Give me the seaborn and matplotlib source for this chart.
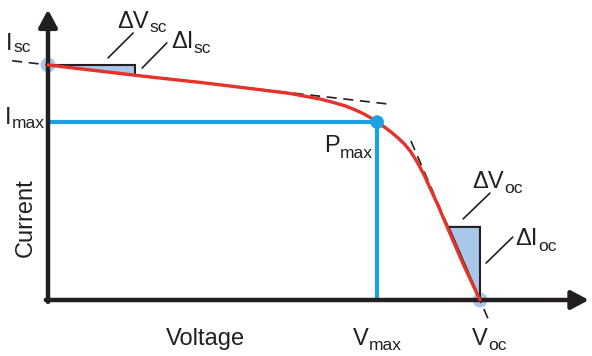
import matplotlib
matplotlib.use("Agg")
import matplotlib.pyplot as plt
import seaborn as sns
import pandas as pd
from matplotlib.transforms import Affine2D
from matplotlib.patches import Polygon
from matplotlib import font_manager

# I-V characteristic, normalised: voltage / Voc, current / Isc
voltage = [0.000, 0.120, 0.236, 0.352, 0.468, 0.560, 0.630, 0.662, 0.688, 0.711,
           0.731, 0.748, 0.762, 0.778, 0.794, 0.810, 0.826, 0.840, 0.854, 0.870,
           0.885, 0.902, 0.924, 0.961, 1.000]
current = [1.000, 0.974, 0.949, 0.926, 0.900, 0.879, 0.855, 0.840, 0.826, 0.809,
           0.792, 0.774, 0.757, 0.737, 0.715, 0.690, 0.662, 0.630, 0.589, 0.534,
           0.474, 0.406, 0.311, 0.153, 0.000]

# characteristic points
v_max, i_max = 0.762, 0.757
i_sc, v_oc = 1.0, 1.0

# tangents at short circuit and open circuit
sc_tangent_v = [-0.083, 0.787]
sc_tangent_i = [1.018, 0.834]
oc_tangent_v = [0.840, 1.022]
oc_tangent_i = [0.677, -0.094]

# slope triangles
sc_triangle = [(0.000, 1.000), (0.201, 1.000), (0.201, 0.958)]
oc_triangle = [(0.927, 0.311), (1.000, 0.311), (1.000, 0.000)]

INK = "#231f20"
RED = "#e5322a"
BLUE = "#1ba1e2"
PALE = "#a9c7e9"

sns.set_theme(style="white")
FONT = "Liberation Sans"
for cand in ("Liberation Sans Narrow", "Liberation Sans"):
    try:
        font_manager.findfont(cand, fallback_to_default=False)
        FONT = cand
        break
    except Exception:
        pass
plt.rcParams["font.family"] = [FONT, "DejaVu Sans"]
NARROW = FONT.endswith("Narrow")
MAIN, SUB = (19, 14) if NARROW else (17, 12.5)

W, H = 592, 356
fig = plt.figure(figsize=(W / 100, H / 100), dpi=100)
ax = fig.add_axes([0, 0, 1, 1])
ax.set_xlim(-48 / 432, 544 / 432)
ax.set_ylim(-56 / 235, 300 / 235)
ax.axis("off")

# pale markers for Isc and Voc (behind the axes)
sns.scatterplot(x=[0.0, v_oc], y=[i_sc, 0.0], s=115, color=PALE,
                edgecolor="none", ax=ax, zorder=1, legend=False)

# slope triangles: pale fill, black outline
for tri, closed in ((sc_triangle, False), (oc_triangle, True)):
    ax.add_patch(Polygon(tri, closed=True, facecolor=PALE, edgecolor="none", zorder=1.5))
    pts = tri + [tri[0]] if closed else tri
    ax.plot([p[0] for p in pts], [p[1] for p in pts],
            color=INK, lw=1.5, zorder=2.5, solid_joinstyle="miter")

# Imax / Vmax guides
ax.plot([0, v_max], [i_max, i_max], color=BLUE, lw=3, zorder=2, solid_capstyle="butt")
ax.plot([v_max, v_max], [i_max, 0], color=BLUE, lw=3, zorder=2, solid_capstyle="butt")

# axes with arrow heads
arrow = dict(arrowstyle="-|>,head_length=0.75,head_width=0.4", lw=3.2, color=INK,
             shrinkA=0, shrinkB=0, mutation_scale=14)
ax.annotate("", xy=(0, 1.236), xytext=(0, -0.008), arrowprops=arrow, zorder=3,
            annotation_clip=False)
ax.annotate("", xy=(1.252, 0), xytext=(-0.005, 0), arrowprops=arrow, zorder=3,
            annotation_clip=False)

# tangents
for tv, ti in ((sc_tangent_v, sc_tangent_i), (oc_tangent_v, oc_tangent_i)):
    ax.plot(tv, ti, color=INK, lw=1.2, dashes=(6, 4), zorder=3.5)

# the I-V curve
df = pd.DataFrame({"Voltage": voltage, "Current": current})
sns.lineplot(data=df, x="Voltage", y="Current", sort=False, estimator=None,
             color=RED, lw=2.4, ax=ax, zorder=4)

# maximum power point
sns.scatterplot(x=[v_max], y=[i_max], s=95, color=BLUE, edgecolor="none",
                ax=ax, zorder=5, legend=False)

# leader lines for the slope labels
leaders = [((0.139, 1.030), (0.197, 1.136)),
           ((0.218, 0.987), (0.275, 1.094)),
           ((0.961, 0.345), (1.023, 0.455)),
           ((1.014, 0.157), (1.076, 0.268))]
for (x0, y0), (x1, y1) in leaders:
    ax.plot([x0, x1], [y0, y1], color=INK, lw=1.2, zorder=3)

# text, placed in pixel coordinates from the top-left corner
to_px = Affine2D().scale(1, -1).translate(0, H)
renderer = fig.canvas.get_renderer()


def label(x, y, main, sub=None, drop=5, **kw):
    t = fig.text(x, y, main, transform=to_px, fontsize=MAIN, color=INK,
                 va="baseline", ha=kw.pop("ha", "left"), **kw)
    if sub:
        bb = t.get_window_extent(renderer)
        fig.text(bb.x1 + 0.5, y + drop, sub, transform=to_px, fontsize=SUB,
                 color=INK, va="baseline", ha="left")
    return t


label(6, 50, "I", "sc", drop=2)
label(117, 28, "ΔV", "sc", drop=4)
label(171, 48, "ΔI", "sc", drop=5)
label(5, 124, "I", "max", drop=4)
label(324, 152, "P", "max", drop=6)
label(353, 345, "V", "max", drop=5)
label(472, 345, "V", "oc", drop=5)
label(472, 188, "ΔV", "oc", drop=5)
label(515, 245, "ΔI", "oc", drop=6)
label(205, 345, "Voltage", ha="center")
fig.text(26, 218, "Current", transform=to_px, fontsize=MAIN, color=INK,
         rotation=90, va="center", ha="center")

fig.savefig("out.png", dpi=100)
